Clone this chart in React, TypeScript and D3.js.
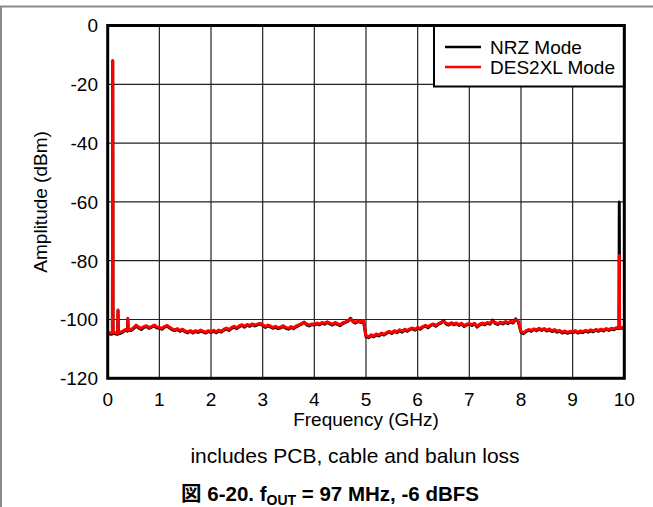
import React from "react";
import * as d3 from "d3";

// ---------- data ----------
const FREQ_STEP = 0.05; // GHz between floor samples
const X_TICKS = [0, 1, 2, 3, 4, 5, 6, 7, 8, 9, 10];
const Y_TICKS = [0, -20, -40, -60, -80, -100, -120];
const SERIES_NAMES = ["NRZ Mode", "DES2XL Mode"];
const SERIES_COLORS = ["#000000", "#ff0000"];

// noise floor, NRZ mode (dBm), one value every 0.05 GHz from 0 to 10 GHz
const nrzFloor = [
  -104.6, -105.0, -104.8, -104.9, -105.1, -104.7, -104.2, -103.6, -103.2, -103.8, -103.1, -102.2, -102.9, -103.4, -102.7, -102.4, -103.0, -102.6, -102.2, -102.8,
  -103.0, -103.3, -102.6, -102.3, -102.9, -103.5, -103.8, -103.4, -104.0, -103.6, -104.2, -104.5, -104.0, -104.6, -104.1, -104.4, -103.9, -104.3, -104.6, -104.1,
  -104.4, -104.0, -104.5, -103.9, -104.3, -103.6, -103.2, -103.7, -103.0, -102.6, -103.1, -102.4, -102.0, -102.6, -101.9, -102.3, -101.7, -102.2, -101.8, -101.5,
  -102.0, -102.7, -102.2, -102.5, -103.0, -102.6, -103.1, -102.8, -102.4, -103.0, -103.3, -102.7, -103.1, -102.5, -102.0, -101.6, -100.9, -101.8, -102.2, -101.7,
  -101.9, -101.4, -101.8, -101.2, -101.6, -101.0, -101.5, -101.9, -101.3, -101.7, -102.1, -101.4, -101.0, -100.6, -99.6, -100.8, -101.2, -100.7, -101.0, -100.5,
  -105.8, -106.2, -105.5, -105.9, -105.2, -105.6, -104.9, -105.3, -104.7, -104.2, -104.8, -104.0, -104.5, -103.8, -104.3, -103.6, -104.0, -103.4, -103.1, -103.6,
  -102.9, -103.3, -102.6, -102.2, -102.8, -102.1, -101.7, -102.3, -101.6, -101.2, -100.4, -101.5, -101.9, -101.3, -101.8, -101.4, -102.0, -101.5, -102.4, -101.8,
  -101.6, -102.0, -101.5, -102.6, -101.9, -101.4, -101.8, -101.2, -101.6, -100.2, -101.3, -101.7, -101.1, -101.5, -100.9, -101.4, -100.8, -101.2, -99.8, -100.9,
  -104.3, -104.8, -104.1, -103.6, -104.0, -103.4, -103.8, -103.2, -103.7, -103.3, -103.9, -103.5, -104.1, -103.7, -104.3, -104.0, -104.6, -104.2, -104.7, -104.3,
  -104.5, -104.1, -104.6, -104.2, -104.4, -103.9, -104.3, -103.8, -104.2, -103.6, -104.0, -103.5, -103.9, -103.3, -103.7, -103.2, -103.5, -103.0, -103.2, -102.9,
  -103.1,
];

// noise floor, DES2XL mode (dBm)
const desFloor = [
  -104.3, -104.6, -104.5, -104.5, -104.8, -104.3, -103.9, -103.3, -103.0, -103.4, -102.8, -101.9, -102.6, -103.0, -102.4, -102.1, -102.7, -102.4, -101.9, -102.5,
  -102.7, -103.0, -102.4, -102.0, -102.6, -103.2, -103.5, -103.1, -103.7, -103.3, -103.9, -104.2, -103.8, -104.3, -103.8, -104.1, -103.6, -104.0, -104.3, -103.8,
  -104.1, -103.7, -104.2, -103.6, -104.0, -103.3, -102.9, -103.4, -102.7, -102.3, -102.8, -102.1, -101.8, -102.3, -101.7, -102.0, -101.5, -101.9, -101.6, -101.3,
  -101.8, -102.4, -101.9, -102.2, -102.7, -102.3, -102.8, -102.5, -102.1, -102.7, -103.0, -102.4, -102.8, -102.2, -101.8, -101.4, -101.0, -101.5, -101.9, -101.5,
  -101.6, -101.2, -101.5, -101.0, -101.3, -100.8, -101.2, -101.6, -101.0, -101.4, -101.8, -101.1, -100.8, -100.4, -99.9, -100.6, -100.9, -100.5, -100.8, -100.3,
  -105.5, -105.9, -105.2, -105.6, -104.9, -105.3, -104.6, -105.0, -104.4, -104.0, -104.5, -103.8, -104.2, -103.5, -104.0, -103.3, -103.7, -103.2, -102.9, -103.3,
  -102.7, -103.0, -102.4, -102.0, -102.5, -101.9, -101.5, -102.0, -101.4, -101.0, -100.7, -101.2, -101.6, -101.1, -101.5, -101.2, -101.7, -101.3, -102.1, -101.5,
  -101.4, -101.7, -101.3, -102.3, -101.6, -101.2, -101.5, -101.0, -101.3, -100.6, -101.0, -101.4, -100.9, -101.2, -100.7, -101.1, -100.6, -100.9, -100.1, -100.6,
  -104.0, -104.5, -103.8, -103.4, -103.7, -103.2, -103.5, -103.0, -103.4, -103.1, -103.6, -103.2, -103.8, -103.4, -104.0, -103.7, -104.3, -103.9, -104.4, -104.0,
  -104.2, -103.8, -104.3, -103.9, -104.1, -103.7, -104.0, -103.5, -103.9, -103.4, -103.7, -103.3, -103.6, -103.1, -103.4, -103.0, -103.2, -102.8, -103.0, -102.7,
  -102.9,
];

// tones (fundamental, harmonics, image) with their base points
const SPIKE_CENTERS = [0.097, 0.2, 0.39, 9.903];
const spikeFreqs = [0.091, 0.097, 0.103, 0.194, 0.2, 0.206, 0.384, 0.39, 0.396, 9.897, 9.903, 9.909];
const nrzSpikeVals = [-104.9, -12, -104.7, -105.0, -97, -104.9, -104.0, -100.0, -103.4, -103.1, -60, -103.0];
const desSpikeVals = [-104.6, -12, -104.4, -104.7, -96.8, -104.6, -103.7, -99.6, -103.2, -102.8, -78.2, -102.8];

// ---------- layout ----------
const W = 653;
const H = 507;
const PL = 107.7, PR = 624.3, PT = 25.5, PB = 378.3;
const FONT = "'Liberation Sans', Arial, 'Noto Sans CJK JP', sans-serif";
const FS = 19;

function buildSeries(floor: number[], sv: number[]): [number, number][] {
  const pts: [number, number][] = floor
    .map((v, i) => [i * FREQ_STEP, v] as [number, number])
    .filter(([f]) => !SPIKE_CENTERS.some((c) => Math.abs(f - c) < 0.02));
  spikeFreqs.forEach((f, i) => pts.push([f, sv[i]]));
  pts.sort((a, b) => a[0] - b[0]);
  return pts;
}

export default function App() {
  const x = d3.scaleLinear().domain([0, 10]).range([PL, PR]);
  const y = d3.scaleLinear().domain([-120, 0]).range([PB, PT]);
  const line = d3
    .line<[number, number]>()
    .x((d) => x(d[0]))
    .y((d) => y(d[1]));
  const series = [buildSeries(nrzFloor, nrzSpikeVals), buildSeries(desFloor, desSpikeVals)];

  return (
    <svg
      width={W}
      height={H}
      style={{ position: "absolute", left: 0, top: 0, background: "#fff" }}
      fontFamily={FONT}
    >
      <rect x={0} y={0} width={W} height={H} fill="#fff" />
      {/* outer frame */}
      <path d={`M1,${H} V6.5 H${W}`} fill="none" stroke="#8a8a8a" strokeWidth={2} />
      <defs>
        <clipPath id="plotclip">
          <rect x={PL} y={PT} width={PR - PL} height={PB - PT} />
        </clipPath>
      </defs>
      {/* grid */}
      {X_TICKS.slice(1, -1).map((t) => (
        <line key={"gx" + t} x1={x(t)} x2={x(t)} y1={PT} y2={PB} stroke="#222" strokeWidth={1.2} />
      ))}
      {Y_TICKS.slice(1, -1).map((t) => (
        <line key={"gy" + t} x1={PL} x2={PR} y1={y(t)} y2={y(t)} stroke="#222" strokeWidth={1.2} />
      ))}
      {/* series */}
      <g clipPath="url(#plotclip)">
        {series.map((s, i) => (
          <path
            key={i}
            d={line(s) || ""}
            fill="none"
            stroke={SERIES_COLORS[i]}
            strokeWidth={3}
            strokeLinejoin="round"
          />
        ))}
      </g>
      {/* legend */}
      <rect x={434} y={PT} width={PR - 434} height={61} fill="#fff" stroke="#000" strokeWidth={2} />
      {SERIES_NAMES.map((n, i) => (
        <g key={n}>
          <line x1={445} x2={481} y1={47 + i * 20} y2={47 + i * 20} stroke={SERIES_COLORS[i]} strokeWidth={2.6} />
          <text x={490} y={53.5 + i * 20} fontSize={FS} fill="#000">
            {n}
          </text>
        </g>
      ))}
      {/* plot border */}
      <rect x={PL} y={PT} width={PR - PL} height={PB - PT} fill="none" stroke="#000" strokeWidth={3} />
      {/* y tick labels */}
      {Y_TICKS.map((t) => (
        <text key={"yl" + t} x={98} y={y(t)} dy="0.36em" textAnchor="end" fontSize={FS} fill="#000">
          {t}
        </text>
      ))}
      {/* x tick labels */}
      {X_TICKS.map((t) => (
        <text key={"xl" + t} x={x(t)} y={406} textAnchor="middle" fontSize={FS} fill="#000">
          {t}
        </text>
      ))}
      <text x={(PL + PR) / 2} y={426} textAnchor="middle" fontSize={FS} fill="#000">
        Frequency (GHz)
      </text>
      <text
        transform={`translate(40,${(PT + PB) / 2}) rotate(-90)`}
        dy="0.36em"
        textAnchor="middle"
        fontSize={FS}
        fill="#000"
      >
        Amplitude (dBm)
      </text>
      <text x={355} y={463} textAnchor="middle" fontSize={21} fill="#000">
        includes PCB, cable and balun loss
      </text>
      <text x={330} y={501} textAnchor="middle" fontSize={20.5} fontWeight="bold" fill="#000">
        図 6-20. f
        <tspan dy={3.5} fontSize={14}>
          OUT
        </tspan>
        <tspan dy={-3.5}> = 97 MHz, -6 dBFS</tspan>
      </text>
    </svg>
  );
}
